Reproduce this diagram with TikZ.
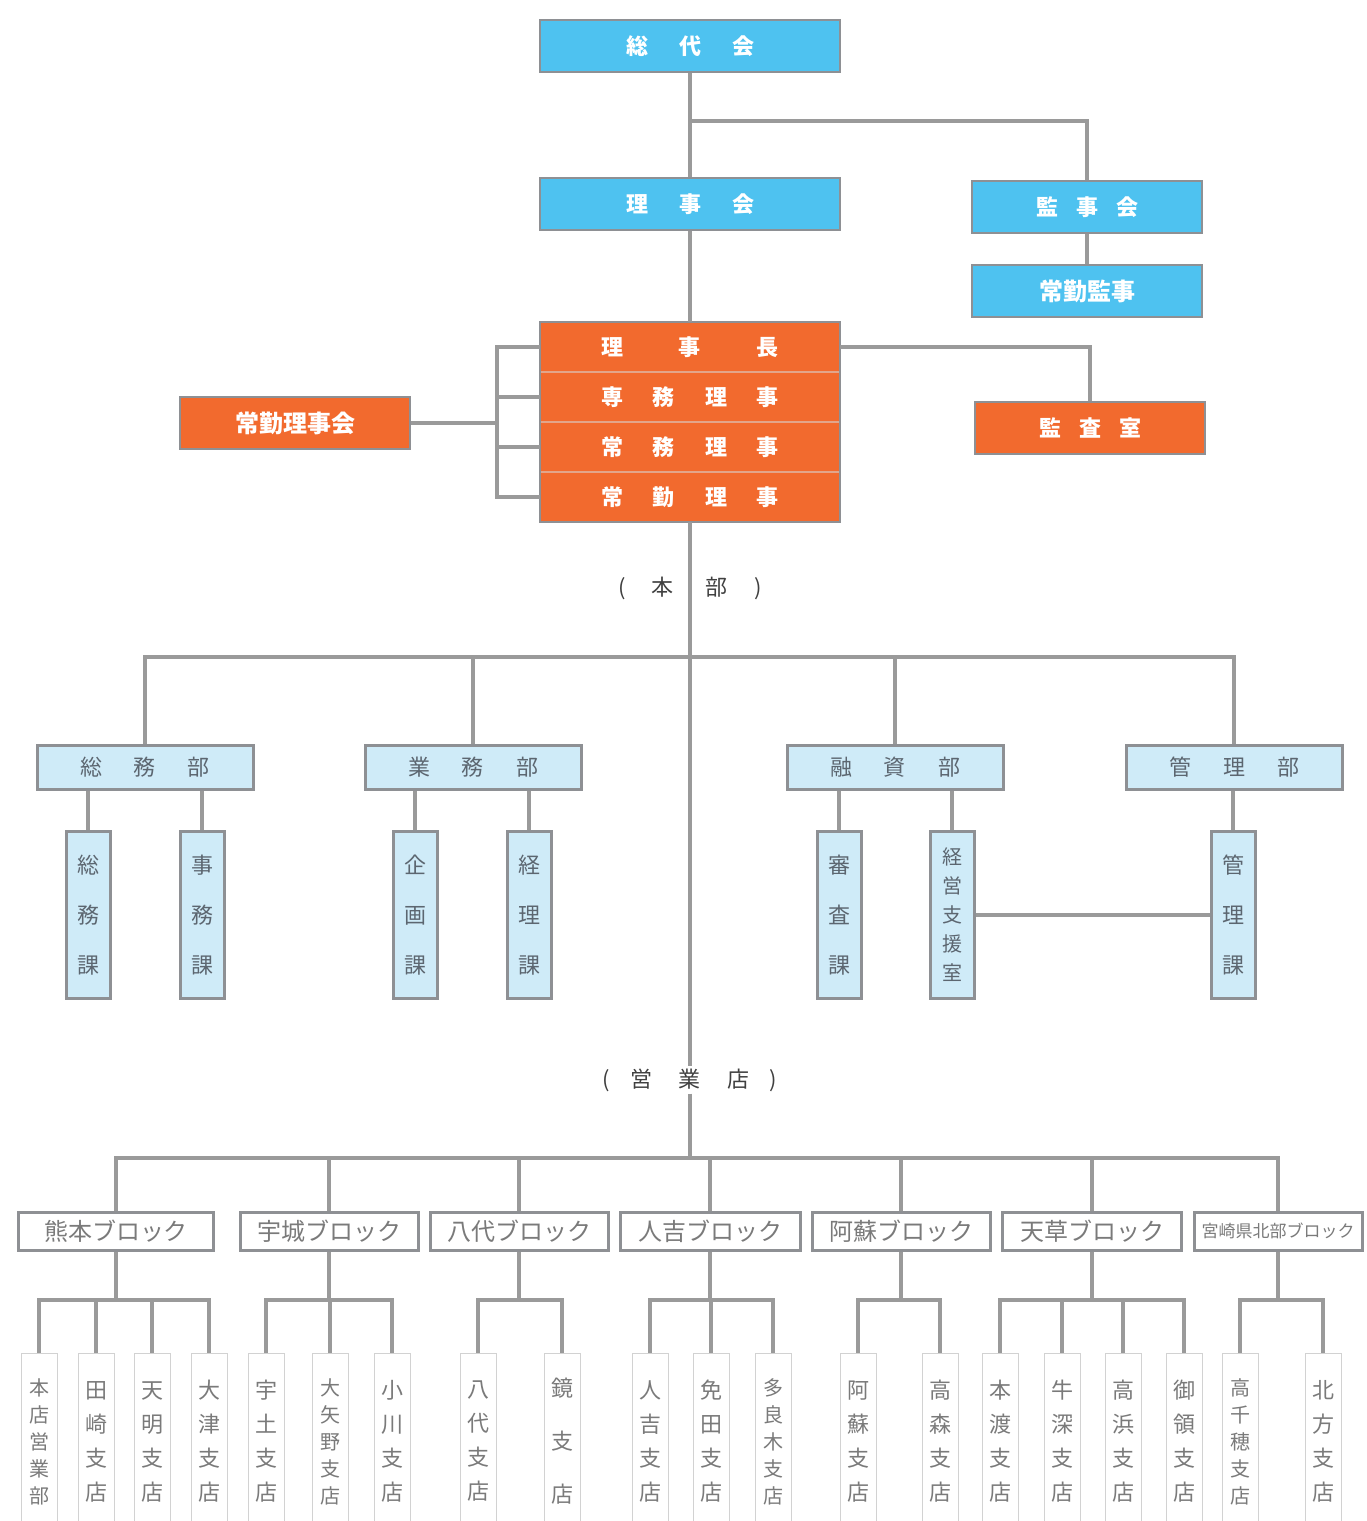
\documentclass[tikz,border=0pt]{standalone}
\usepackage{fontspec}
\setmainfont{Noto Sans CJK JP}
\definecolor{skyb}{HTML}{4EC2F0}
\definecolor{orng}{HTML}{F26A2E}
\definecolor{lblue}{HTML}{CFEBF8}
\definecolor{bord}{HTML}{8E9094}
\definecolor{conn}{HTML}{9A9A9A}
\definecolor{dtext}{HTML}{5C6670}
\definecolor{gtext}{HTML}{7A7A7A}
\definecolor{sepc}{HTML}{E3A58A}
\tikzset{
  topbox/.style={fill=skyb, draw=bord, line width=2.5pt, text=white, inner sep=0pt,
    minimum height=52pt, font=\fontsize{22}{26}\selectfont\bfseries},
  orow/.style={fill=orng, text=white, inner sep=0pt, minimum width=300pt, minimum height=50pt,
    font=\fontsize{22}{26}\selectfont\bfseries},
  obox/.style={fill=orng, draw=bord, line width=2.5pt, text=white, inner sep=0pt,
    minimum width=230pt, minimum height=52pt, font=\fontsize{22}{26}\selectfont\bfseries},
  deptbox/.style={fill=lblue, draw=bord, line width=3pt, inner sep=0pt, minimum width=216pt,
    minimum height=44pt, text=dtext, font=\fontsize{22}{26}\selectfont},
  sectbox/.style={fill=lblue, draw=bord, line width=3pt, inner sep=0pt, minimum width=44pt,
    minimum height=167pt, text=dtext, align=center, font=\fontsize{22}{50}\selectfont},
  blkbox/.style={fill=white, draw=bord, line width=3pt, inner sep=0pt, minimum height=38pt,
    text=gtext, font=\fontsize{24}{28}\selectfont},
  brnbox/.style={fill=white, draw=gray!35, line width=1pt, inner sep=0pt, minimum width=36pt,
    minimum height=176pt, anchor=north, text=gtext, align=center, font=\fontsize{22}{34}\selectfont},
  brnfive/.style={brnbox, font=\fontsize{20}{27}\selectfont},
  lbl/.style={inner sep=2pt, text=black!75, font=\fontsize{22}{26}\selectfont},
  cn/.style={draw=conn, line width=3.5pt}
}
\begin{document}
\begin{tikzpicture}[x=1pt,y=-1pt]
\clip (0,0) rectangle (1367,1521);
\fill[white] (0,0) rectangle (1367,1521);

% top nodes
\node[topbox, minimum width=300pt] (soudai) at (690,46) {総\hspace{31pt}代\hspace{31pt}会};
\node[topbox, minimum width=300pt] (rijikai) at (690,204) {理\hspace{31pt}事\hspace{31pt}会};
\node[topbox, minimum width=230pt] (kanjikai) at (1087,207) {監\hspace{18pt}事\hspace{18pt}会};
\node[topbox, minimum width=230pt, font=\fontsize{24}{28}\selectfont\bfseries] (joukinkanji) at (1087,291) {常勤監事};

\coordinate (j1) at (690,121);
\draw[cn] (soudai.south) -- (rijikai.north);
\draw[cn] (j1) -| (kanjikai.north);
\draw[cn] (kanjikai.south) -- (joukinkanji.north);

% executive block
\node[orow] (r1) at (690,347) {理\hspace{56pt}事\hspace{56pt}長};
\node[orow] (r2) at (690,397) {専\hspace{30pt}務\hspace{30pt}理\hspace{30pt}事};
\node[orow] (r3) at (690,447) {常\hspace{30pt}務\hspace{30pt}理\hspace{30pt}事};
\node[orow] (r4) at (690,497) {常\hspace{30pt}勤\hspace{30pt}理\hspace{30pt}事};
\draw[sepc, line width=2.5pt] (r1.south west) -- (r1.south east);
\draw[sepc, line width=2.5pt] (r2.south west) -- (r2.south east);
\draw[sepc, line width=2.5pt] (r3.south west) -- (r3.south east);
\draw[bord, line width=2.5pt] (r1.north west) rectangle (r4.south east);

\node[obox, font=\fontsize{24}{28}\selectfont\bfseries] (joukinkai) at (295,423) {常勤理事会};
\node[obox] (kansa) at (1090,428) {監\hspace{18pt}査\hspace{18pt}室};

\draw[cn] (rijikai.south) -- (r1.north);
\coordinate (brk) at (497,423);
\draw[cn] (r1.west) -| (brk) |- (r4.west);
\draw[cn] (r2.west) -- (r2.west -| brk);
\draw[cn] (r3.west) -- (r3.west -| brk);
\draw[cn] (joukinkai.east) -- (brk);
\draw[cn] (r1.east) -| (kansa.north);

% labels
\node[lbl] (honbu) at (690,588) {(\hspace{26pt}本\hspace{32pt}部\hspace{26pt})};
\node[lbl, fill=white] (eigyo) at (690,1080) {(\hspace{20pt}営\hspace{27pt}業\hspace{27pt}店\hspace{20pt})};

% departments
\node[deptbox] (soumu) at (145,767) {総\hspace{32pt}務\hspace{32pt}部};
\node[deptbox] (gyomu) at (473,767) {業\hspace{32pt}務\hspace{32pt}部};
\node[deptbox] (yushi) at (895,767) {融\hspace{32pt}資\hspace{32pt}部};
\node[deptbox] (kanri) at (1234,767) {管\hspace{32pt}理\hspace{32pt}部};

% sections
\node[sectbox] (s1) at (88,915) {総\\務\\課};
\node[sectbox] (s2) at (202,915) {事\\務\\課};
\node[sectbox] (s3) at (415,915) {企\\画\\課};
\node[sectbox] (s4) at (529,915) {経\\理\\課};
\node[sectbox] (s5) at (839,915) {審\\査\\課};
\node[sectbox, font=\fontsize{20}{29}\selectfont] (s6) at (952,915) {経\\営\\支\\援\\室};
\node[sectbox] (s7) at (1233,915) {管\\理\\課};

\draw[cn] (r4.south) -- (eigyo.north);
\coordinate (dbus) at (690,657);
\draw[cn] (soumu.north) -- (soumu.north |- dbus) -- (kanri.north |- dbus) -- (kanri.north);
\draw[cn] (gyomu.north) -- (gyomu.north |- dbus);
\draw[cn] (yushi.north) -- (yushi.north |- dbus);

\draw[cn] (s1.north) -- (s1.north |- soumu.south);
\draw[cn] (s2.north) -- (s2.north |- soumu.south);
\draw[cn] (s3.north) -- (s3.north |- gyomu.south);
\draw[cn] (s4.north) -- (s4.north |- gyomu.south);
\draw[cn] (s5.north) -- (s5.north |- yushi.south);
\draw[cn] (s6.north) -- (s6.north |- yushi.south);
\draw[cn] (s7.north) -- (s7.north |- kanri.south);
\draw[cn] (s6.east) -- (s7.west);

% blocks
\node[blkbox, minimum width=195pt] (b1) at (116,1231) {熊本ブロック};
\node[blkbox, minimum width=178pt] (b2) at (329,1231) {宇城ブロック};
\node[blkbox, minimum width=178pt] (b3) at (519,1231) {八代ブロック};
\node[blkbox, minimum width=180pt] (b4) at (710,1231) {人吉ブロック};
\node[blkbox, minimum width=178pt] (b5) at (901,1231) {阿蘇ブロック};
\node[blkbox, minimum width=179pt] (b6) at (1092,1231) {天草ブロック};
\node[blkbox, minimum width=168pt, font=\fontsize{17}{20}\selectfont] (b7) at (1278,1231) {宮崎県北部ブロック};

\coordinate (bbus) at (690,1158);
\draw[cn] (eigyo.south) -- (bbus);
\draw[cn] (b1.north) -- (b1.north |- bbus) -- (b7.north |- bbus) -- (b7.north);
\foreach \b in {b2,b3,b4,b5,b6} { \draw[cn] (\b.north) -- (\b.north |- bbus); }

% branches
\node[brnfive] (k1) at (39,1353) {本\\店\\営\\業\\部};
\node[brnbox] (k2) at (96,1353) {田\\崎\\支\\店};
\node[brnbox] (k3) at (152,1353) {天\\明\\支\\店};
\node[brnbox] (k4) at (209,1353) {大\\津\\支\\店};
\node[brnbox] (u1) at (266,1353) {宇\\土\\支\\店};
\node[brnfive] (u2) at (330,1353) {大\\矢\\野\\支\\店};
\node[brnbox] (u3) at (392,1353) {小\\川\\支\\店};
\node[brnbox] (y1) at (478,1353) {八\\代\\支\\店};
\node[brnbox, font=\fontsize{22}{53}\selectfont] (y2) at (562,1353) {鏡\\支\\店};
\node[brnbox] (h1) at (650,1353) {人\\吉\\支\\店};
\node[brnbox] (h2) at (711,1353) {免\\田\\支\\店};
\node[brnfive] (h3) at (773,1353) {多\\良\\木\\支\\店};
\node[brnbox] (a1) at (858,1353) {阿\\蘇\\支\\店};
\node[brnbox] (a2) at (940,1353) {高\\森\\支\\店};
\node[brnbox] (t1) at (1000,1353) {本\\渡\\支\\店};
\node[brnbox] (t2) at (1062,1353) {牛\\深\\支\\店};
\node[brnbox] (t3) at (1123,1353) {高\\浜\\支\\店};
\node[brnbox] (t4) at (1184,1353) {御\\領\\支\\店};
\node[brnfive] (m1) at (1240,1353) {高\\千\\穂\\支\\店};
\node[brnbox] (m2) at (1323,1353) {北\\方\\支\\店};

\coordinate (sb) at (0,1300);
\draw[cn] (k1.north) -- (k1.north |- sb) -- (k4.north |- sb) -- (k4.north);
\draw[cn] (k2.north) -- (k2.north |- sb);
\draw[cn] (k3.north) -- (k3.north |- sb);
\draw[cn] (b1.south) -- (b1.south |- sb);

\draw[cn] (u1.north) -- (u1.north |- sb) -- (u3.north |- sb) -- (u3.north);
\draw[cn] (u2.north) -- (u2.north |- sb);
\draw[cn] (b2.south) -- (b2.south |- sb);

\draw[cn] (y1.north) -- (y1.north |- sb) -- (y2.north |- sb) -- (y2.north);
\draw[cn] (b3.south) -- (b3.south |- sb);

\draw[cn] (h1.north) -- (h1.north |- sb) -- (h3.north |- sb) -- (h3.north);
\draw[cn] (h2.north) -- (h2.north |- sb);
\draw[cn] (b4.south) -- (b4.south |- sb);

\draw[cn] (a1.north) -- (a1.north |- sb) -- (a2.north |- sb) -- (a2.north);
\draw[cn] (b5.south) -- (b5.south |- sb);

\draw[cn] (t1.north) -- (t1.north |- sb) -- (t4.north |- sb) -- (t4.north);
\draw[cn] (t2.north) -- (t2.north |- sb);
\draw[cn] (t3.north) -- (t3.north |- sb);
\draw[cn] (b6.south) -- (b6.south |- sb);

\draw[cn] (m1.north) -- (m1.north |- sb) -- (m2.north |- sb) -- (m2.north);
\draw[cn] (b7.south) -- (b7.south |- sb);
\end{tikzpicture}
\end{document}
